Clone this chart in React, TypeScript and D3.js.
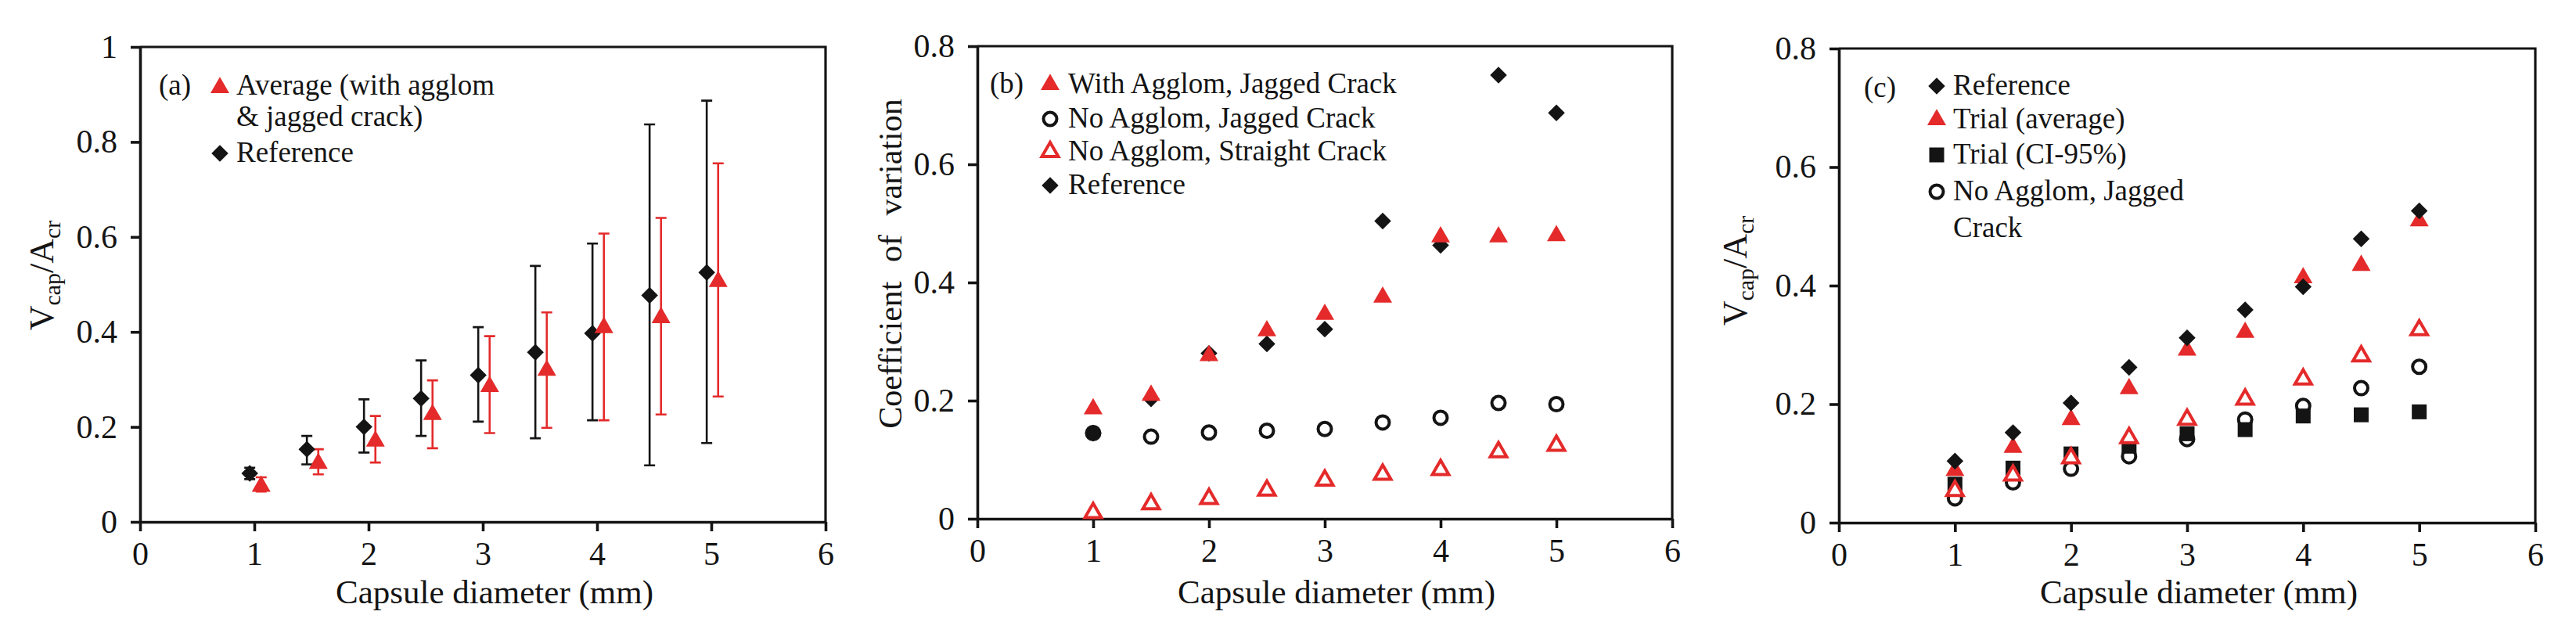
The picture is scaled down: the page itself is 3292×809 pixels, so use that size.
import { useEffect, useRef } from "react";
import * as d3 from "d3";

const RED = "#e42a2a";
const INK = "#141414";
const FONT = "Liberation Serif";

// capsule diameters (mm), shared by every series
const diameters = [1, 1.5, 2, 2.5, 3, 3.5, 4, 4.5, 5];
const xTicks = [0, 1, 2, 3, 4, 5, 6];
const yTicksA = [0, 0.2, 0.4, 0.6, 0.8, 1];
const yTicksBC = [0, 0.2, 0.4, 0.6, 0.8];

// (a) Vcap/Acr with error bars
const aRefMean = [0.102, 0.153, 0.2, 0.26, 0.309, 0.357, 0.397, 0.477, 0.525];
const aRefHigh = [0.114, 0.181, 0.258, 0.34, 0.41, 0.539, 0.586, 0.837, 0.887];
const aRefLow = [0.09, 0.121, 0.146, 0.181, 0.211, 0.176, 0.214, 0.119, 0.166];
const aAvgMean = [0.075, 0.123, 0.17, 0.226, 0.285, 0.319, 0.409, 0.43, 0.506];
const aAvgHigh = [0.094, 0.153, 0.223, 0.298, 0.391, 0.441, 0.607, 0.64, 0.755];
const aAvgLow = [0.064, 0.1, 0.125, 0.155, 0.187, 0.198, 0.214, 0.226, 0.264];

// (b) coefficient of variation
const bWithAgglom = [0.186, 0.209, 0.276, 0.318, 0.346, 0.375, 0.477, 0.477, 0.479];
const bNoAgglomJagged = [0.145, 0.139, 0.146, 0.149, 0.152, 0.163, 0.171, 0.196, 0.194];
const bNoAgglomStraight = [0.01, 0.025, 0.034, 0.048, 0.065, 0.075, 0.083, 0.113, 0.124];
const bReference = [0.145, 0.203, 0.28, 0.296, 0.321, 0.504, 0.463, 0.751, 0.687];

// (c) Vcap/Acr comparison
const cReference = [0.104, 0.152, 0.202, 0.262, 0.312, 0.359, 0.398, 0.479, 0.526];
const cTrialAvg = [0.088, 0.127, 0.174, 0.226, 0.291, 0.321, 0.413, 0.434, 0.509];
const cTrialCI = [0.065, 0.092, 0.116, 0.129, 0.15, 0.157, 0.18, 0.182, 0.187];
const cNoAgglomJagged = [0.041, 0.068, 0.091, 0.112, 0.141, 0.174, 0.197, 0.227, 0.263];
const cNoAgglomStraight = [0.054, 0.08, 0.109, 0.143, 0.174, 0.208, 0.242, 0.281, 0.325];

type Box = { left: number; right: number; top: number; bottom: number };
type G = d3.Selection<SVGGElement, unknown, null, undefined>;
type Kind = "tri" | "triOpen" | "diamond" | "circleOpen" | "square";

function mark(g: G, kind: Kind, cx: number, cy: number) {
  if (kind === "circleOpen") {
    g.append("circle")
      .attr("cx", cx)
      .attr("cy", cy)
      .attr("r", 8.5)
      .attr("fill", "none")
      .attr("stroke", INK)
      .attr("stroke-width", 4);
    return;
  }
  let path = "";
  let rot = 0;
  if (kind === "tri") path = d3.symbol().type(d3.symbolTriangle).size(250)()!;
  if (kind === "triOpen") path = d3.symbol().type(d3.symbolTriangle).size(190)()!;
  if (kind === "diamond") {
    path = d3.symbol().type(d3.symbolSquare).size(230)()!;
    rot = 45;
  }
  if (kind === "square") path = d3.symbol().type(d3.symbolSquare).size(361)()!;
  const p = g
    .append("path")
    .attr("d", path)
    .attr("transform", `translate(${cx},${cy}) rotate(${rot})`);
  if (kind === "triOpen") {
    p.attr("fill", "white").attr("stroke", RED).attr("stroke-width", 4);
  } else {
    p.attr("fill", kind === "tri" ? RED : INK);
  }
}

function panel(svg: d3.Selection<SVGSVGElement, unknown, null, undefined>, box: Box, yTicks: number[]) {
  const g = svg.append("g");
  const x = d3.scaleLinear().domain([0, 6]).range([box.left, box.right]);
  const y = d3
    .scaleLinear()
    .domain([0, yTicks[yTicks.length - 1]])
    .range([box.bottom, box.top]);

  g.append("path")
    .attr("d", `M${box.left},${box.top}H${box.right}V${box.bottom}`)
    .attr("fill", "none")
    .attr("stroke", INK)
    .attr("stroke-width", 3.2);

  const xa = g
    .append("g")
    .attr("transform", `translate(0,${box.bottom})`)
    .call(
      d3
        .axisBottom(x)
        .tickValues(xTicks)
        .tickSize(12)
        .tickSizeOuter(0)
        .tickPadding(13)
        .tickFormat((d) => String(d))
    );
  const ya = g
    .append("g")
    .attr("transform", `translate(${box.left},0)`)
    .call(
      d3
        .axisLeft(y)
        .tickValues(yTicks)
        .tickSize(12)
        .tickSizeOuter(0)
        .tickPadding(17)
        .tickFormat((d) => String(d))
    );
  [xa, ya].forEach((a) => {
    a.attr("font-family", FONT).attr("font-size", 42);
    a.selectAll("path.domain, line").attr("stroke", INK).attr("stroke-width", 3.6);
    a.selectAll("text").attr("fill", INK);
  });

  g.append("text")
    .attr("x", (box.left + box.right) / 2 + 15)
    .attr("y", 771)
    .attr("text-anchor", "middle")
    .attr("fill", INK)
    .attr("font-family", FONT)
    .attr("font-size", 43)
    .text("Capsule diameter (mm)");

  return { g, x, y };
}

function vcapLabel(g: G, bx: number, cy: number) {
  const t = g
    .append("text")
    .attr("transform", `translate(${bx},${cy}) rotate(-90)`)
    .attr("text-anchor", "middle")
    .attr("fill", INK)
    .attr("font-family", FONT)
    .attr("font-size", 44);
  t.append("tspan").text("V");
  t.append("tspan").attr("dy", 9).attr("font-size", 30).text("cap");
  t.append("tspan").attr("dy", -9).text("/A");
  t.append("tspan").attr("dy", 9).attr("font-size", 30).text("cr");
}

function legendText(g: G, x: number, y: number, s: string) {
  g.append("text")
    .attr("x", x)
    .attr("y", y)
    .attr("fill", INK)
    .attr("font-family", FONT)
    .attr("font-size", 37)
    .text(s);
}

function errorBar(g: G, cx: number, y0: number, y1: number, color: string) {
  g.append("path")
    .attr("d", `M${cx},${y0}V${y1}M${cx - 7},${y0}H${cx + 7}M${cx - 7},${y1}H${cx + 7}`)
    .attr("fill", "none")
    .attr("stroke", color)
    .attr("stroke-width", 2.6);
}

export default function App() {
  const ref = useRef<SVGSVGElement>(null);

  useEffect(() => {
    document.body.style.margin = "0";
    const svg = d3.select(ref.current!);
    svg.selectAll("*").remove();

    // ---- (a)
    const A = panel(svg, { left: 179, right: 1055, top: 60, bottom: 667 }, yTicksA);
    vcapLabel(A.g, 68, 352);
    diameters.forEach((d, i) => {
      errorBar(A.g, A.x(d - 0.04), A.y(aRefHigh[i]), A.y(aRefLow[i]), INK);
      errorBar(A.g, A.x(d + 0.06), A.y(aAvgHigh[i]), A.y(aAvgLow[i]), RED);
    });
    diameters.forEach((d, i) => {
      mark(A.g, "diamond", A.x(d - 0.04), A.y(aRefMean[i]));
      mark(A.g, "tri", A.x(d + 0.06), A.y(aAvgMean[i]));
    });
    legendText(A.g, 203, 121, "(a)");
    mark(A.g, "tri", 281, 112);
    legendText(A.g, 302, 121, "Average (with agglom");
    legendText(A.g, 302, 161, "& jagged crack)");
    mark(A.g, "diamond", 281, 196);
    legendText(A.g, 302, 207, "Reference");

    // ---- (b)
    const B = panel(svg, { left: 1249, right: 2137, top: 59, bottom: 663 }, yTicksBC);
    B.g.append("text")
      .attr("transform", `translate(1152,337) rotate(-90)`)
      .attr("text-anchor", "middle")
      .attr("fill", INK)
      .attr("font-family", FONT)
      .attr("font-size", 42)
      .attr("word-spacing", 14)
      .text("Coefficient of variation");
    diameters.forEach((d, i) => mark(B.g, "diamond", B.x(d), B.y(bReference[i])));
    diameters.forEach((d, i) => mark(B.g, "circleOpen", B.x(d), B.y(bNoAgglomJagged[i])));
    diameters.forEach((d, i) => mark(B.g, "triOpen", B.x(d), B.y(bNoAgglomStraight[i])));
    diameters.forEach((d, i) => mark(B.g, "tri", B.x(d), B.y(bWithAgglom[i])));
    legendText(B.g, 1265, 119, "(b)");
    const bRows: [Kind, string, number][] = [
      ["tri", "With Agglom, Jagged Crack", 119],
      ["circleOpen", "No Agglom, Jagged Crack", 163],
      ["triOpen", "No Agglom, Straight Crack", 205],
      ["diamond", "Reference", 248],
    ];
    bRows.forEach(([k, s, by]) => {
      mark(B.g, k, 1342, by - 11);
      legendText(B.g, 1365, by, s);
    });

    // ---- (c)
    const C = panel(svg, { left: 2350, right: 3240, top: 62, bottom: 668 }, yTicksBC);
    vcapLabel(C.g, 2232, 346);
    diameters.forEach((d, i) => mark(C.g, "circleOpen", C.x(d), C.y(cNoAgglomJagged[i])));
    diameters.forEach((d, i) => mark(C.g, "square", C.x(d), C.y(cTrialCI[i])));
    diameters.forEach((d, i) => mark(C.g, "triOpen", C.x(d), C.y(cNoAgglomStraight[i])));
    diameters.forEach((d, i) => mark(C.g, "tri", C.x(d), C.y(cTrialAvg[i])));
    diameters.forEach((d, i) => mark(C.g, "diamond", C.x(d), C.y(cReference[i])));
    legendText(C.g, 2382, 124, "(c)");
    const cRows: [Kind, string, number][] = [
      ["diamond", "Reference", 121],
      ["tri", "Trial (average)", 164],
      ["square", "Trial (CI-95%)", 209],
      ["circleOpen", "No Agglom, Jagged", 256],
    ];
    cRows.forEach(([k, s, cy]) => {
      mark(C.g, k, 2475, cy - 11);
      legendText(C.g, 2496, cy, s);
    });
    legendText(C.g, 2496, 303, "Crack");
  }, []);

  return (
    <svg
      ref={ref}
      width={3292}
      height={809}
      style={{ display: "block", background: "white" }}
    />
  );
}
